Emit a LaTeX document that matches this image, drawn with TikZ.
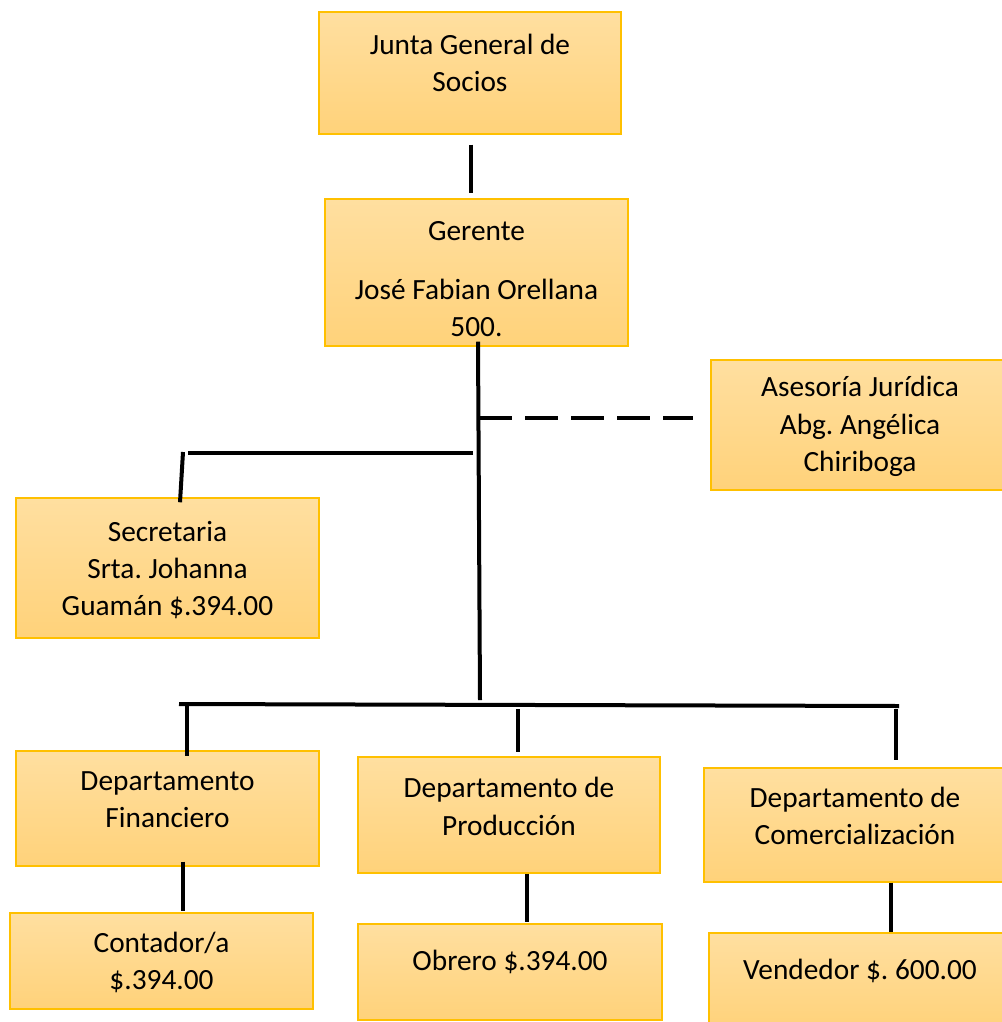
\documentclass[tikz,border=0pt]{standalone}
\usepackage{fontspec}
\setmainfont{Carlito}
\frenchspacing
\usetikzlibrary{calc}
\definecolor{boxtop}{RGB}{255,223,160}
\definecolor{boxbot}{RGB}{255,210,122}
\definecolor{boxedge}{RGB}{255,192,0}
\begin{document}
\begin{tikzpicture}[x=0.75pt, y=-0.75pt,
    orgbox/.style={draw=boxedge, line width=1.1pt, top color=boxtop, bottom color=boxbot, inner sep=0pt},
    txt/.style={align=center, font=\fontsize{22}{28}\selectfont, inner sep=0pt},
    conn/.style={line width=3pt, black}]
\clip (0,0) rectangle (1002,1022);
% boxes
\node[orgbox, minimum width=226.5pt, minimum height=91.5pt] (junta) at (470,73) {};
\node[orgbox, minimum width=227.25pt, minimum height=110.25pt] (gerente) at (476.5,272.5) {};
\node[orgbox, minimum width=223.5pt, minimum height=97.5pt] (asesoria) at (860,425) {};
\node[orgbox, minimum width=227.25pt, minimum height=105pt] (secretaria) at (167.5,568) {};
\node[orgbox, minimum width=227.25pt, minimum height=86.25pt] (fin) at (167.5,808.5) {};
\node[orgbox, minimum width=226.5pt, minimum height=87pt] (prod) at (509,815) {};
\node[orgbox, minimum width=226.5pt, minimum height=85.5pt] (com) at (855,825) {};
\node[orgbox, minimum width=227.25pt, minimum height=72pt] (cont) at (161.5,961) {};
\node[orgbox, minimum width=228pt, minimum height=72pt] (obrero) at (510,972) {};
\node[orgbox, minimum width=226.5pt, minimum height=72pt] (vend) at (860,981) {};
% texts
\node[txt] (juntaTxt) at (470,63) {Junta General de\\Socios};
\node[txt] (gerenteTxt) at (476.5,279) {Gerente\\[16pt]José Fabian Orellana\\500.};
\node[txt] (asesoriaTxt) at (860,426.5) {Asesoría Jurídica\\Abg. Angélica\\Chiriboga};
\node[txt] (secretariaTxt) at (167.5,570) {Secretaria\\Srta. Johanna\\Guamán \$.394.00};
\node[txt] (finTxt) at (167.5,799.5) {Departamento\\Financiero};
\node[txt] (prodTxt) at (509,806.5) {Departamento de\\Producción};
\node[txt] (comTxt) at (855,816) {Departamento de\\Comercialización};
\node[txt] (contTxt) at (161.5,962.5) {Contador/a\\\$.394.00};
\node[txt] (obreroTxt) at (510,962) {Obrero \$.394.00};
\node[txt] (vendTxt) at (860,970.5) {Vendedor \$. 600.00};
% junctions
\coordinate (hub) at (480,700);
\coordinate (busL) at (179,704);
\coordinate (busR) at (899,706);
\coordinate (dashJ) at (479,418);
\coordinate (secJ) at (473,453);
\coordinate (secL) at (188,453);
\coordinate (secT) at (183,452);
% connectors
\draw[conn] ($(junta.south)+(1,10)$) -- ($(gerente.north)+(-5.5,-5)$);
\draw[conn] ($(gerente.south)+(1.5,-5)$) -- (hub);
\draw[conn, dash pattern=on 24.75pt off 9.75pt] (dashJ) -- ($(asesoria.west)+(-17,-7)$);
\draw[conn] (secJ) -- (secL);
\draw[conn] (secT) -- ($(secretaria.north)+(12.5,5)$);
\draw[conn] (busL) -- (busR);
\draw[conn] ($(fin.north)+(19.5,-46)$) -- ($(fin.north)+(19.5,6)$);
\draw[conn] ($(prod.north)+(9,-47)$) -- ($(prod.north)+(9,-4)$);
\draw[conn] ($(com.north)+(41,-58)$) -- ($(com.north)+(41,-7)$);
\draw[conn] ($(fin.south)+(15.5,-5)$) -- ($(cont.north)+(21.5,-1)$);
\draw[conn] ($(prod.south)+(18,0)$) -- ($(obrero.north)+(17,-1)$);
\draw[conn] ($(com.south)+(36,0)$) -- ($(vend.north)+(31,0)$);
\end{tikzpicture}
\end{document}
